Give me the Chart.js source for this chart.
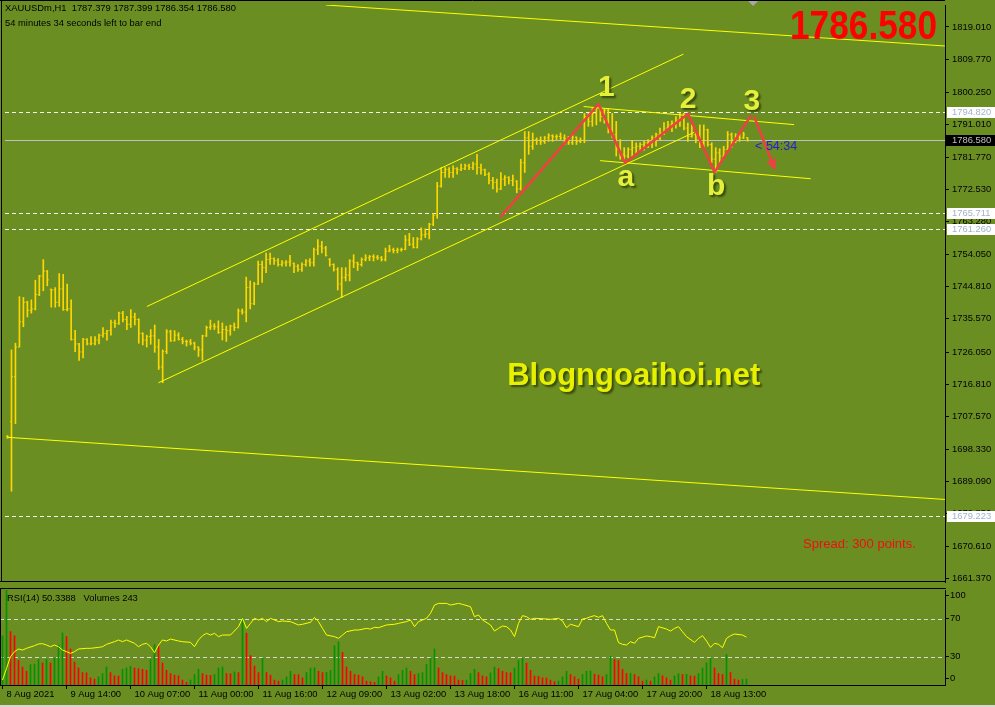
<!DOCTYPE html>
<html>
<head>
<meta charset="utf-8">
<script src="https://cdn.jsdelivr.net/npm/chart.js@4.4.1/dist/chart.umd.min.js"></script>
<style>
html,body{margin:0;padding:0;background:#6B8E23;overflow:hidden;width:995px;height:707px;}
canvas{position:absolute;left:0;display:block;}
#c1{top:0;}
#c2{top:587px;}
</style>
</head>
<body>
<canvas id="c1" width="995" height="587"></canvas>
<canvas id="c2" width="995" height="120"></canvas>
<script>
// ---------------- DATA (XAUUSDm, H1) ----------------
const symbolName = 'XAUUSDm';
const timeframe = 'H1';
const opens = [
1702.0,1706.2,1719.0,1727.5,1734.7,1740.3,1738.0,1738.4,1742.5,1747.8,
1749.2,1744.0,1743.8,1740.3,1744.1,1738.2,1738.4,1729.7,1728.4,1726.1,
1729.7,1728.4,1728.6,1729.5,1730.9,1731.4,1732.2,1734.5,1734.2,1737.2,
1735.4,1734.0,1736.1,1735.4,1731.4,1729.5,1730.5,1730.7,1727.5,1721.8,
1726.2,1731.9,1729.3,1730.9,1729.7,1729.1,1729.0,1728.6,1727.5,1726.7,
1730.7,1733.1,1733.5,1733.3,1731.7,1732.5,1732.2,1733.5,1733.1,1737.8,
1737.5,1744.5,1739.9,1745.5,1751.1,1750.2,1752.5,1752.8,1752.2,1751.1,
1751.6,1751.8,1751.4,1750.6,1749.7,1751.1,1752.1,1751.6,1755.3,1756.3,
1755.8,1752.6,1751.1,1749.7,1745.5,1747.4,1748.1,1752.1,1751.6,1751.1,
1752.5,1753.0,1753.4,1753.2,1753.0,1752.5,1754.9,1755.3,1755.1,1755.3,
1755.4,1758.1,1756.9,1756.0,1758.4,1759.6,1759.8,1762.6,1765.2,1773.5,
1777.4,1778.2,1777.4,1778.5,1778.2,1778.5,1779.3,1778.8,1779.8,1778.8,
1778.2,1776.9,1775.1,1774.6,1772.7,1775.5,1776.0,1775.1,1774.9,1772.7,
1780.2,1787.3,1784.9,1786.8,1786.6,1786.3,1787.3,1787.9,1787.6,1787.7,
1787.3,1787.0,1785.9,1787.5,1786.3,1786.6,1793.4,1792.0,1794.3,1795.7,
1793.4,1795.2,1789.6,1788.2,1784.0,1782.6,1782.1,1784.0,1784.5,1784.9,
1785.4,1785.9,1786.3,1787.3,1788.2,1788.7,1790.1,1791.0,1791.5,1792.4,
1792.9,1790.1,1787.7,1788.2,1786.8,1785.9,1789.6,1785.4,1781.2,1783.0,
1782.1,1784.0,1788.2,1786.8,1787.7,1787.3,1787.379];
const highs = [
1702.2,1726.7,1728.6,1741.9,1741.7,1740.6,1741.0,1746.6,1748.0,1752.5,
1749.4,1744.1,1744.5,1748.5,1748.3,1745.5,1741.0,1732.3,1728.6,1730.0,
1729.9,1730.5,1730.5,1731.2,1733.1,1732.3,1735.2,1735.2,1737.5,1737.7,
1736.3,1738.2,1737.2,1735.6,1731.6,1730.9,1732.5,1733.8,1729.7,1726.7,
1732.5,1732.3,1732.2,1731.6,1730.3,1729.5,1729.7,1728.9,1727.6,1730.9,
1733.5,1735.2,1734.2,1735.0,1734.4,1733.5,1733.8,1734.4,1738.4,1738.4,
1747.5,1746.4,1746.0,1752.1,1752.1,1754.4,1754.4,1753.0,1752.8,1752.2,
1752.2,1753.7,1751.6,1751.1,1751.6,1752.5,1752.8,1755.8,1758.2,1757.7,
1756.3,1752.8,1751.3,1750.2,1750.2,1750.2,1752.5,1753.9,1751.8,1753.0,
1753.9,1753.7,1753.9,1753.7,1753.4,1755.8,1756.6,1755.8,1755.8,1755.8,
1759.4,1760.0,1758.8,1758.8,1761.6,1761.3,1762.9,1765.7,1774.6,1778.8,
1778.8,1778.8,1779.3,1778.8,1779.8,1779.8,1779.8,1780.4,1782.6,1779.8,
1778.4,1777.4,1776.0,1775.5,1777.4,1776.5,1776.2,1776.7,1775.1,1781.2,
1789.1,1789.1,1788.7,1787.3,1787.6,1787.7,1788.5,1788.2,1788.2,1788.7,
1788.2,1787.7,1788.2,1787.6,1787.3,1794.3,1794.3,1795.7,1796.2,1796.2,
1795.7,1795.7,1794.3,1792.0,1786.8,1784.5,1784.5,1786.6,1785.9,1785.9,
1786.3,1786.8,1787.9,1788.7,1790.1,1791.7,1792.0,1792.2,1793.4,1794.3,
1794.3,1791.5,1791.0,1788.7,1791.0,1791.0,1789.8,1785.9,1784.5,1784.2,
1784.9,1789.1,1788.7,1788.5,1788.7,1788.9,1787.399];
const lows = [
1701.4,1686.3,1705.6,1727.5,1733.3,1736.1,1737.2,1738.1,1742.2,1743.6,
1745.0,1738.9,1738.9,1739.1,1738.0,1737.8,1729.5,1726.2,1723.7,1724.4,
1728.1,1728.1,1728.1,1728.4,1730.3,1729.5,1730.9,1733.1,1734.0,1734.7,
1732.5,1733.1,1733.8,1728.6,1728.1,1727.5,1728.3,1726.0,1721.1,1717.3,
1725.6,1729.1,1729.2,1729.5,1728.4,1727.8,1728.1,1726.7,1724.8,1723.7,
1730.5,1732.5,1732.5,1731.4,1729.5,1729.1,1730.9,1732.2,1732.9,1736.9,
1734.7,1738.4,1739.6,1745.3,1746.0,1748.8,1751.1,1751.1,1750.6,1750.6,
1750.6,1750.6,1748.8,1749.1,1749.1,1750.6,1750.6,1750.6,1753.9,1754.4,
1753.5,1750.6,1749.2,1743.8,1741.7,1746.4,1746.4,1750.2,1749.4,1750.6,
1752.1,1752.2,1752.1,1752.5,1752.1,1752.1,1754.7,1754.4,1754.4,1754.9,
1755.3,1756.5,1755.8,1755.8,1758.1,1758.8,1758.4,1762.2,1764.3,1773.2,
1776.0,1776.0,1776.0,1776.9,1777.9,1778.2,1778.2,1778.2,1776.9,1776.9,
1776.5,1774.1,1772.7,1771.8,1772.5,1773.6,1774.1,1773.6,1771.6,1772.4,
1777.4,1782.6,1784.0,1785.4,1785.4,1785.7,1786.3,1786.3,1786.8,1786.8,
1785.4,1785.4,1785.4,1785.4,1785.9,1785.9,1790.6,1790.6,1791.0,1792.0,
1791.5,1788.7,1787.3,1782.1,1781.2,1781.2,1781.6,1781.9,1783.0,1783.5,
1783.8,1784.5,1784.5,1784.9,1786.8,1788.2,1789.6,1789.1,1790.1,1790.6,
1789.6,1786.3,1787.5,1785.9,1784.5,1784.0,1784.9,1780.2,1777.4,1780.2,
1781.6,1783.8,1784.5,1785.9,1786.3,1787.1,1786.354];
const closes = [
1701.8,1719.0,1727.5,1734.7,1740.3,1738.0,1738.4,1742.5,1747.8,1749.2,
1746.7,1743.8,1740.3,1744.1,1738.2,1738.4,1729.7,1728.4,1726.1,1729.7,
1728.4,1728.6,1729.5,1730.9,1731.4,1732.2,1734.5,1734.2,1737.2,1735.4,
1734.0,1736.1,1735.4,1731.4,1729.5,1730.5,1730.7,1727.5,1721.8,1726.2,
1731.9,1729.3,1730.9,1729.7,1729.1,1729.0,1728.6,1727.5,1726.7,1730.7,
1733.1,1733.5,1733.3,1731.7,1732.5,1732.2,1733.5,1733.1,1737.8,1737.5,
1744.5,1739.9,1745.5,1751.1,1750.2,1752.5,1752.8,1752.2,1751.1,1751.6,
1751.8,1752.1,1750.6,1749.7,1751.1,1752.1,1751.6,1755.3,1756.3,1755.8,
1753.7,1751.1,1749.7,1745.5,1747.4,1748.1,1752.1,1751.6,1751.1,1752.5,
1753.0,1753.4,1753.2,1753.0,1752.5,1754.9,1755.3,1755.1,1755.3,1755.4,
1758.1,1756.9,1756.0,1758.4,1759.6,1759.8,1762.6,1765.2,1773.5,1777.4,
1778.2,1777.4,1778.5,1778.2,1778.5,1779.3,1778.8,1779.8,1778.8,1778.2,
1776.9,1775.1,1774.6,1772.7,1775.5,1776.0,1775.1,1775.5,1772.7,1780.2,
1787.3,1784.9,1786.8,1786.6,1786.3,1787.3,1787.9,1787.6,1787.7,1787.3,
1787.0,1785.9,1787.5,1786.3,1786.6,1793.4,1792.0,1794.3,1795.7,1793.4,
1795.2,1789.6,1788.2,1784.0,1782.6,1782.1,1784.0,1784.5,1784.9,1785.4,
1785.9,1786.3,1787.3,1788.2,1788.7,1790.1,1791.0,1791.5,1792.4,1792.9,
1790.1,1787.7,1788.2,1786.8,1785.9,1789.6,1785.4,1781.2,1783.0,1782.1,
1784.0,1788.2,1786.8,1787.7,1787.3,1788.2,1786.580];
const volumes = [
2025,3915,2200,2025,1013,743,567,837,860,1053,
905,1053,905,1107,1647,2147,1998,1485,945,702,
513,500,297,243,338,473,743,513,378,365,
648,702,770,702,675,648,608,1053,1661,1593,
905,608,473,405,378,203,108,203,432,648,
473,405,395,432,702,743,473,460,540,513,
2768,2133,1215,783,513,1107,513,405,203,162,
203,338,567,432,425,297,513,702,715,567,
513,525,608,1620,1782,1350,743,567,432,405,
338,162,135,108,338,567,378,297,162,432,
608,702,567,432,473,513,851,1107,1485,702,
513,432,378,370,203,190,203,473,648,513,
378,338,500,743,675,567,513,500,702,1013,
1107,905,608,370,360,297,290,203,135,162,
338,567,432,338,243,432,567,580,446,405,
338,432,1188,1053,1013,648,473,485,432,338,
162,203,162,338,473,378,297,203,378,473,
432,445,378,365,473,702,918,1107,702,473,
432,1256,513,243,203,230,243];
const rsiBars = [0,1,2,3,4,5,6,8,9,10,11,12,13,14,15,16,17,18,19,21,22,24,25,26,28,29,30,31,33,34,35,36,37,38,39,40,41,42,44,45,47,48,49,50,51,52,53,54,55,57,59,60,61,62,63,64,65,66,67,69,70,72,74,75,77,78,79,80,81,83,84,85,86,88,89,91,92,93,94,96,98,99,101,102,103,104,105,106,107,108,109,111,112,114,115,117,118,119,120,122,123,124,125,126,127,128,129,130,131,132,133,136,137,139,140,141,142,144,145,146,147,148,149,150,151,152,153,154,155,156,157,158,159,161,162,163,164,166,167,168,169,170,171,173,174,175,176,177,178,179,180,181,182,183,185,186];
const rsiValues = [5.3,17.5,29.8,35.1,37.9,36.8,38.6,41.4,43.2,43.5,42.1,40.3,42.1,40.3,36.8,35.1,33.3,35.1,37.9,38.6,38.6,39.6,40.3,42.8,45.6,47.4,45.6,47.4,43.9,40.3,42.8,43.9,40.3,34.0,42.1,47.4,46.3,48.4,46.3,45.6,44.9,40.3,47.4,51.9,54.4,52.6,54.4,50.9,52.6,52.6,61.4,70.2,59.6,64.9,70.2,68.4,70.2,66.7,70.2,66.7,67.4,66.7,63.2,63.9,66.0,71.2,66.7,59.6,52.6,50.9,49.1,52.6,56.1,57.9,57.9,59.6,58.9,60.7,60.3,63.2,63.9,64.9,66.7,68.4,61.4,66.7,68.4,70.2,75.4,84.2,85.9,85.9,84.2,85.9,84.9,82.4,71.9,73.7,68.4,63.2,56.8,59.6,62.1,61.4,57.9,50.9,64.9,73.0,71.9,69.1,70.2,69.5,69.1,70.2,67.4,60.3,63.9,61.4,69.5,70.2,71.9,73.0,71.2,73.0,64.9,57.9,57.9,44.6,42.8,42.1,45.6,43.9,49.1,51.6,50.9,49.8,61.4,58.9,56.8,59.6,61.4,56.1,50.9,44.9,49.1,51.9,46.3,39.6,43.9,42.8,39.3,49.1,51.9,53.7,52.6,50.3388];
const priceTicks = [1819.010,1809.770,1800.250,1791.010,1781.770,1772.530,1763.280,1754.050,1744.810,1735.570,1726.050,1716.810,1707.570,1698.330,1689.090,1679.850,1670.610,1661.370];
const timeTickBars = [0,16,32,48,64,80,96,112,128,144,160,176];
const timeTickLabels = ['8 Aug 2021','9 Aug 14:00','10 Aug 07:00','11 Aug 00:00','11 Aug 16:00','12 Aug 09:00','13 Aug 02:00','13 Aug 18:00','16 Aug 11:00','17 Aug 04:00','17 Aug 20:00','18 Aug 13:00'];
const rsiTickPos = [94.0,70,30,6.6];
const rsiTickLabels = ['100','70','30','0'];
const rsiLevels = [70,30];
const levelPrices = [1794.820,1765.711,1761.260,1679.223];
const bidPrice = 1786.580;
// trend lines: [bar1, price1, bar2, price2]
const trendLines = [
  [0,1701.70,235.6,1683.94],
  [80,1825.28,235.6,1813.56],
  [35.05,1739.10,169.875,1811.23],
  [37.95,1717.29,172.6,1788.89],
  [144.8,1796.25,197.7,1791.08],
  [148.95,1780.79,201.875,1775.62]
];
const waveBars   = [124.05,148.55,155.2,171.05,177.7,186.7];
const wavePrices = [1764.86,1796.98,1780.12,1794.17,1777.51,1793.44];
const arrowBars   = [187.7,193.0];
const arrowPrices = [1793.24,1777.98];
const waveLabels = ['1','2','3','a','b'];
const waveLabelBars = [150.5,171.05,187.1,155.4,178.1];
const waveLabelPrices = [1799.15,1795.87,1795.29,1773.57,1770.96];
const watermark = 'Blogngoaihoi.net';
const watermarkBar = 125.6, watermarkPrice = 1716.62;
const timerText = '< 54:34';
const infoLine2 = '54 minutes 34 seconds left to bar end';
const spreadText = 'Spread: 300 points.';
const rsiPeriod = 14;

// ---------------- STYLE ----------------
const BG = '#6B8E23';
const GOLD = '#FFD700';
const FONT = '"Liberation Sans", Arial, sans-serif';
const SMALL = 9.4;
const X_MIN = -0.625, X_MAX = 235.625;
Chart.defaults.font.family = FONT;
Chart.defaults.color = '#000';

function seg(ctx,x1,y1,x2,y2){ctx.beginPath();ctx.moveTo(x1,y1);ctx.lineTo(x2,y2);ctx.stroke();}
const idx = closes.map((_,i)=>i);
const last = closes.length - 1;

const pricePlugin = {
  id:'pricePane',
  beforeDraw(chart){
    const ctx = chart.ctx; ctx.save(); ctx.fillStyle = BG; ctx.fillRect(0,0,chart.width,chart.height); ctx.restore();
  },
  beforeDatasetsDraw(chart){
    const {ctx, chartArea:a, scales:{y}} = chart;
    ctx.save();
    ctx.beginPath(); ctx.rect(a.left,a.top,a.right-a.left,a.bottom-a.top); ctx.clip();
    ctx.lineWidth = 1;
    ctx.strokeStyle = '#f4f4f4'; ctx.setLineDash([4,3]);
    levelPrices.forEach(p=>{const yy = Math.round(y.getPixelForValue(p))+0.5; seg(ctx,a.left,yy,a.right,yy);});
    ctx.setLineDash([]);
    ctx.strokeStyle = '#c0c0c0';
    const yb = Math.round(y.getPixelForValue(bidPrice))+0.5; seg(ctx,a.left,yb,a.right,yb);
    ctx.restore();
  },
  afterDatasetsDraw(chart){
    const {ctx, chartArea:a, scales:{x,y}} = chart;
    const X = v=>x.getPixelForValue(v), Y = v=>y.getPixelForValue(v);
    ctx.save();
    ctx.beginPath(); ctx.rect(a.left,a.top,a.right-a.left,a.bottom-a.top); ctx.clip();
    ctx.strokeStyle = '#FFFF00'; ctx.lineWidth = 1;
    trendLines.forEach(t=>seg(ctx,X(t[0]),Y(t[1]),X(t[2]),Y(t[3])));
    // wave zigzag
    ctx.strokeStyle = '#f04040'; ctx.lineWidth = 2.5; ctx.lineJoin = 'round'; ctx.lineCap = 'round';
    ctx.beginPath();
    waveBars.forEach((b,k)=>{const px=X(b), py=Y(wavePrices[k]); if(k) ctx.lineTo(px,py); else ctx.moveTo(px,py);});
    ctx.stroke();
    const ax1=X(arrowBars[0]), ay1=Y(arrowPrices[0]), ax2=X(arrowBars[1]), ay2=Y(arrowPrices[1]);
    const ang = Math.atan2(ay2-ay1, ax2-ax1), hl = 11, hw = 5;
    const bx = ax2-hl*Math.cos(ang), by = ay2-hl*Math.sin(ang);
    seg(ctx,ax1,ay1,bx,by);
    ctx.fillStyle = '#f04040';
    ctx.beginPath(); ctx.moveTo(ax2,ay2);
    ctx.lineTo(bx+hw*Math.sin(ang), by-hw*Math.cos(ang));
    ctx.lineTo(bx-hw*Math.sin(ang), by+hw*Math.cos(ang));
    ctx.closePath(); ctx.fill();
    // labels
    ctx.shadowColor = 'rgba(40,50,0,0.75)'; ctx.shadowOffsetX = 2; ctx.shadowOffsetY = 2; ctx.shadowBlur = 2;
    ctx.font = 'bold 30px ' + FONT; ctx.textAlign = 'center'; ctx.textBaseline = 'alphabetic';
    ctx.fillStyle = '#e4f03c';
    waveLabels.forEach((t,k)=>ctx.fillText(t, X(waveLabelBars[k]), Y(waveLabelPrices[k])));
    ctx.font = 'bold 31px ' + FONT; ctx.textAlign = 'left'; ctx.fillStyle = '#e6f000';
    ctx.fillText(watermark, X(watermarkBar), Y(watermarkPrice));
    ctx.restore();
  },
  afterDraw(chart){
    const {ctx, chartArea:a, scales:{x,y}} = chart;
    const X = v=>x.getPixelForValue(v), Y = v=>y.getPixelForValue(v);
    ctx.save();
    ctx.strokeStyle = '#000'; ctx.lineWidth = 1;
    seg(ctx,0,0.5,a.right,0.5);
    seg(ctx,1.5,0,1.5,a.bottom);
    seg(ctx,0,a.bottom-0.5,a.right+1,a.bottom-0.5);
    // price boxes on axis
    ctx.font = SMALL + 'px ' + FONT; ctx.textBaseline = 'middle'; ctx.textAlign = 'left';
    levelPrices.forEach(p=>{
      const yy = Math.round(Y(p));
      ctx.fillStyle = '#ffffff'; ctx.fillRect(a.right+2, yy-5, 48, 11);
      ctx.fillStyle = '#9fb4c8'; ctx.fillText(p.toFixed(3), a.right+7, yy+0.5);
    });
    const yb = Math.round(Y(bidPrice));
    ctx.fillStyle = '#000'; ctx.fillRect(a.right+1, yb-5, 49, 11);
    ctx.fillStyle = '#c0c0c0'; ctx.fillText(bidPrice.toFixed(3), a.right+7, yb+0.5);
    // header text
    ctx.fillStyle = '#000'; ctx.textBaseline = 'alphabetic';
    const hdr = symbolName + ',' + timeframe + '  ' + opens[last].toFixed(3) + ' ' + highs[last].toFixed(3) + ' ' + lows[last].toFixed(3) + ' ' + closes[last].toFixed(3);
    ctx.fillText(hdr, 5, 11);
    ctx.fillText(infoLine2, 5, 25.5);
    // big bid
    ctx.fillStyle = '#ff0000'; ctx.font = 'bold 40px ' + FONT; ctx.textAlign = 'right';
    ctx.fillText(bidPrice.toFixed(3), a.right-8, 38.5, 147);
    // spread
    ctx.font = '13px ' + FONT; ctx.textAlign = 'left'; ctx.fillStyle = '#ee1010';
    ctx.fillText(spreadText, a.right-142, a.bottom-34);
    // timer
    ctx.font = '12.5px ' + FONT; ctx.fillStyle = '#2424c8';
    ctx.fillText(timerText, X(last+1.9), Y(bidPrice)+10);
    // shift marker
    const tx = X(last+1.4);
    ctx.fillStyle = '#a8a8a8';
    ctx.beginPath(); ctx.moveTo(tx-5,1); ctx.lineTo(tx+5,1); ctx.lineTo(tx,6); ctx.closePath(); ctx.fill();
    ctx.restore();
  }
};

new Chart(document.getElementById('c1'), {
  type: 'bar',
  data: {
    datasets: [
      {type:'bar', data: idx.map(i=>({x:i, y:[lows[i], highs[i]]})), backgroundColor: GOLD, barThickness: 1, borderWidth: 0, order: 3},
      {type:'scatter', data: idx.map(i=>({x:i-0.25, y:opens[i]})), pointStyle:'line', pointRadius:0.5, borderColor: GOLD, borderWidth:1, order: 2},
      {type:'scatter', data: idx.map(i=>({x:i+0.25, y:closes[i]})), pointStyle:'line', pointRadius:0.5, borderColor: GOLD, borderWidth:1, order: 1}
    ]
  },
  options: {
    responsive:false, animation:false, events:[], devicePixelRatio:1,
    layout:{padding:0},
    plugins:{legend:{display:false}, tooltip:{enabled:false}},
    scales:{
      x:{type:'linear', min:X_MIN, max:X_MAX, display:false, offset:false, grid:{offset:false}},
      y:{type:'linear', position:'right', min:1660.34, max:1825.28, beginAtZero:false,
         afterBuildTicks(s){ s.ticks = priceTicks.map(v=>({value:v})); },
         afterFit(s){ s.width = 50; s.paddingTop = 0; s.paddingBottom = 0; },
         ticks:{callback:v=>Number(v).toFixed(3), color:'#000', font:{size:SMALL, family:FONT}, padding:3, autoSkip:false},
         grid:{drawOnChartArea:false, drawTicks:true, tickLength:4, color:'#000'},
         border:{display:true, color:'#000'}}
    }
  },
  plugins:[pricePlugin]
});

const rsiPlugin = {
  id:'rsiPane',
  beforeDraw(chart){
    const ctx = chart.ctx; ctx.save(); ctx.fillStyle = BG; ctx.fillRect(0,0,chart.width,chart.height); ctx.restore();
  },
  beforeDatasetsDraw(chart){
    const {ctx, chartArea:a, scales:{y}} = chart;
    ctx.save(); ctx.strokeStyle = '#d8d8d8'; ctx.lineWidth = 1; ctx.setLineDash([4,3]);
    rsiLevels.forEach(l=>{const yy = Math.round(y.getPixelForValue(l))+0.5; seg(ctx,a.left,yy,a.right,yy);});
    ctx.restore();
  },
  afterDraw(chart){
    const {ctx, chartArea:a} = chart;
    ctx.save();
    ctx.strokeStyle = '#000'; ctx.lineWidth = 1;
    seg(ctx,0,1.5,a.right+1,1.5);
    seg(ctx,0.5,1.5,0.5,a.bottom);
    ctx.fillStyle = '#000'; ctx.font = SMALL + 'px ' + FONT; ctx.textBaseline = 'alphabetic'; ctx.textAlign = 'left';
    ctx.fillText('RSI(' + rsiPeriod + ') ' + rsiValues[rsiValues.length-1].toFixed(4) + '   Volumes ' + volumes[last], 7, 14);
    ctx.fillStyle = '#d6d6d6'; ctx.fillRect(0, chart.height-2, chart.width, 2);
    ctx.restore();
  }
};

new Chart(document.getElementById('c2'), {
  type: 'bar',
  data: {
    datasets: [
      {type:'line', data: rsiBars.map((b,k)=>({x:b, y:rsiValues[k]})), borderColor:'#FFFF00', borderWidth:1, pointRadius:0, tension:0, yAxisID:'y', order:1},
      {type:'bar', data: idx.map(i=>({x:i, y:volumes[i]})), barThickness:1, borderWidth:0, yAxisID:'yv', order:2,
       backgroundColor: idx.map(i=> (i===0 || volumes[i] > volumes[i-1]) ? '#009400' : '#ff0000')}
    ]
  },
  options: {
    responsive:false, animation:false, events:[], devicePixelRatio:1,
    layout:{padding:{top:3, left:0, right:0, bottom:0}},
    plugins:{legend:{display:false}, tooltip:{enabled:false}},
    scales:{
      x:{type:'linear', position:'bottom', min:X_MIN, max:X_MAX, offset:false,
         afterBuildTicks(s){ s.ticks = timeTickBars.map(v=>({value:v})); },
         afterFit(s){ s.height = 22; s.paddingLeft = 0; s.paddingRight = 0; },
         ticks:{callback:(v,i)=>timeTickLabels[i], align:'start', labelOffset:4, padding:0, maxRotation:0, minRotation:0, autoSkip:false, color:'#000', font:{size:SMALL, family:FONT}},
         grid:{drawOnChartArea:false, drawTicks:true, tickLength:4, color:'#000', offset:false},
         border:{display:true, color:'#000'}},
      y:{type:'linear', position:'right', min:0, max:100,
         afterBuildTicks(s){ s.ticks = rsiTickPos.map(v=>({value:v})); },
         afterFit(s){ s.width = 50; s.paddingTop = 0; s.paddingBottom = 0; },
         ticks:{callback:(v,i)=>rsiTickLabels[i], color:'#000', font:{size:SMALL, family:FONT}, padding:1, autoSkip:false},
         grid:{drawOnChartArea:false, drawTicks:true, tickLength:4, color:'#000'},
         border:{display:true, color:'#000'}},
      yv:{type:'linear', display:false, min:0, max:3915}
    }
  },
  plugins:[rsiPlugin]
});
</script>
</body>
</html>
